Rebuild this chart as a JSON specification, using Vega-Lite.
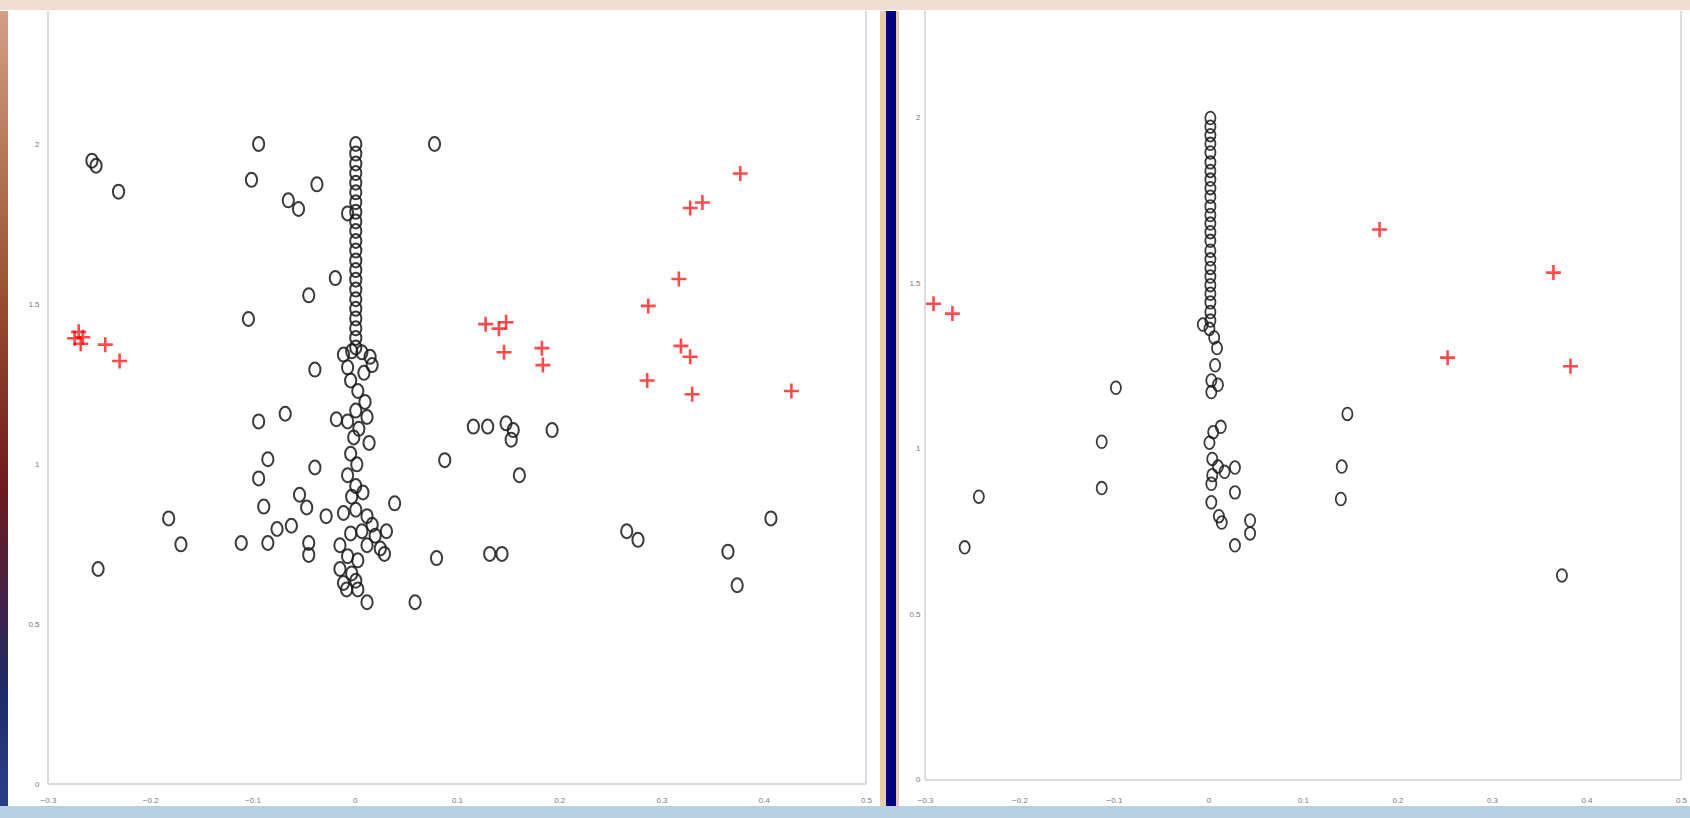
{
  "$schema": "https://vega.github.io/schema/vega-lite/v6.json",
  "padding": 0,
  "background": "white",
  "spacing": 0,
  "config": {"view": {"stroke": null}, "axis": {"labelFont": "Liberation Sans", "labelColor": "#7a7a7a", "labelFontSize": 8, "zindex": 1, "format": "~g"}},
  "datasets": {
    "left": [
      {"x": -0.257, "y": 1.948, "kind": "circle"}, {"x": -0.253, "y": 1.932, "kind": "circle"}, {"x": -0.231, "y": 1.851, "kind": "circle"},
      {"x": -0.251, "y": 0.672, "kind": "circle"}, {"x": -0.182, "y": 0.83, "kind": "circle"}, {"x": -0.17, "y": 0.749, "kind": "circle"},
      {"x": -0.094, "y": 2.0, "kind": "circle"}, {"x": -0.101, "y": 1.888, "kind": "circle"}, {"x": -0.065, "y": 1.824, "kind": "circle"},
      {"x": -0.055, "y": 1.797, "kind": "circle"}, {"x": -0.037, "y": 1.874, "kind": "circle"}, {"x": -0.045, "y": 1.527, "kind": "circle"},
      {"x": -0.104, "y": 1.453, "kind": "circle"}, {"x": -0.039, "y": 1.295, "kind": "circle"}, {"x": -0.094, "y": 1.133, "kind": "circle"},
      {"x": -0.068, "y": 1.157, "kind": "circle"}, {"x": -0.085, "y": 1.015, "kind": "circle"}, {"x": -0.039, "y": 0.989, "kind": "circle"},
      {"x": -0.094, "y": 0.955, "kind": "circle"}, {"x": -0.089, "y": 0.867, "kind": "circle"}, {"x": -0.054, "y": 0.904, "kind": "circle"},
      {"x": -0.047, "y": 0.864, "kind": "circle"}, {"x": -0.062, "y": 0.807, "kind": "circle"}, {"x": -0.076, "y": 0.797, "kind": "circle"},
      {"x": -0.085, "y": 0.753, "kind": "circle"}, {"x": -0.111, "y": 0.753, "kind": "circle"}, {"x": -0.045, "y": 0.753, "kind": "circle"},
      {"x": -0.045, "y": 0.716, "kind": "circle"}, {"x": -0.028, "y": 0.837, "kind": "circle"}, {"x": -0.019, "y": 1.581, "kind": "circle"},
      {"x": -0.018, "y": 1.14, "kind": "circle"}, {"x": 0.078, "y": 2.0, "kind": "circle"}, {"x": 0.012, "y": 0.568, "kind": "circle"},
      {"x": 0.059, "y": 0.568, "kind": "circle"}, {"x": 0.08, "y": 0.706, "kind": "circle"}, {"x": 0.088, "y": 1.012, "kind": "circle"},
      {"x": 0.039, "y": 0.877, "kind": "circle"}, {"x": 0.132, "y": 0.719, "kind": "circle"}, {"x": 0.144, "y": 0.719, "kind": "circle"},
      {"x": 0.116, "y": 1.117, "kind": "circle"}, {"x": 0.13, "y": 1.117, "kind": "circle"}, {"x": 0.148, "y": 1.127, "kind": "circle"},
      {"x": 0.155, "y": 1.106, "kind": "circle"}, {"x": 0.153, "y": 1.076, "kind": "circle"}, {"x": 0.161, "y": 0.965, "kind": "circle"},
      {"x": 0.193, "y": 1.106, "kind": "circle"}, {"x": 0.266, "y": 0.79, "kind": "circle"}, {"x": 0.277, "y": 0.763, "kind": "circle"},
      {"x": 0.365, "y": 0.726, "kind": "circle"}, {"x": 0.374, "y": 0.621, "kind": "circle"}, {"x": 0.407, "y": 0.83, "kind": "circle"},
      {"x": 0.001, "y": 2.0, "kind": "circle"}, {"x": 0.001, "y": 1.97, "kind": "circle"}, {"x": 0.001, "y": 1.939, "kind": "circle"},
      {"x": 0.001, "y": 1.909, "kind": "circle"}, {"x": 0.001, "y": 1.879, "kind": "circle"}, {"x": 0.001, "y": 1.849, "kind": "circle"},
      {"x": 0.001, "y": 1.818, "kind": "circle"}, {"x": 0.001, "y": 1.788, "kind": "circle"}, {"x": 0.001, "y": 1.758, "kind": "circle"},
      {"x": 0.001, "y": 1.728, "kind": "circle"}, {"x": 0.001, "y": 1.697, "kind": "circle"}, {"x": 0.001, "y": 1.667, "kind": "circle"},
      {"x": 0.001, "y": 1.636, "kind": "circle"}, {"x": 0.001, "y": 1.606, "kind": "circle"}, {"x": 0.001, "y": 1.576, "kind": "circle"},
      {"x": 0.001, "y": 1.545, "kind": "circle"}, {"x": 0.001, "y": 1.515, "kind": "circle"}, {"x": 0.001, "y": 1.485, "kind": "circle"},
      {"x": 0.001, "y": 1.455, "kind": "circle"}, {"x": 0.001, "y": 1.424, "kind": "circle"}, {"x": 0.001, "y": 1.394, "kind": "circle"},
      {"x": 0.001, "y": 1.364, "kind": "circle"}, {"x": -0.007, "y": 1.783, "kind": "circle"},
      {"x": -0.011, "y": 1.342, "kind": "circle"}, {"x": -0.003, "y": 1.352, "kind": "circle"}, {"x": 0.007, "y": 1.349, "kind": "circle"},
      {"x": 0.015, "y": 1.335, "kind": "circle"}, {"x": -0.007, "y": 1.302, "kind": "circle"}, {"x": 0.009, "y": 1.285, "kind": "circle"},
      {"x": 0.017, "y": 1.309, "kind": "circle"}, {"x": -0.004, "y": 1.261, "kind": "circle"},
      {"x": 0.003, "y": 1.228, "kind": "circle"}, {"x": 0.01, "y": 1.194, "kind": "circle"}, {"x": 0.001, "y": 1.167, "kind": "circle"},
      {"x": 0.012, "y": 1.147, "kind": "circle"}, {"x": -0.007, "y": 1.133, "kind": "circle"}, {"x": 0.004, "y": 1.11, "kind": "circle"},
      {"x": -0.001, "y": 1.083, "kind": "circle"}, {"x": 0.014, "y": 1.066, "kind": "circle"}, {"x": -0.004, "y": 1.032, "kind": "circle"},
      {"x": 0.002, "y": 0.999, "kind": "circle"}, {"x": -0.007, "y": 0.965, "kind": "circle"}, {"x": 0.001, "y": 0.931, "kind": "circle"},
      {"x": -0.003, "y": 0.898, "kind": "circle"}, {"x": 0.008, "y": 0.911, "kind": "circle"},
      {"x": -0.011, "y": 0.847, "kind": "circle"}, {"x": 0.001, "y": 0.857, "kind": "circle"}, {"x": 0.012, "y": 0.837, "kind": "circle"},
      {"x": 0.017, "y": 0.81, "kind": "circle"}, {"x": 0.007, "y": 0.79, "kind": "circle"}, {"x": 0.02, "y": 0.776, "kind": "circle"},
      {"x": 0.012, "y": 0.746, "kind": "circle"}, {"x": 0.025, "y": 0.736, "kind": "circle"}, {"x": 0.029, "y": 0.719, "kind": "circle"},
      {"x": -0.004, "y": 0.783, "kind": "circle"}, {"x": -0.0145, "y": 0.746, "kind": "circle"}, {"x": -0.007, "y": 0.712, "kind": "circle"},
      {"x": 0.003, "y": 0.699, "kind": "circle"}, {"x": -0.0145, "y": 0.672, "kind": "circle"}, {"x": -0.003, "y": 0.658, "kind": "circle"},
      {"x": -0.011, "y": 0.628, "kind": "circle"}, {"x": 0.001, "y": 0.635, "kind": "circle"}, {"x": -0.008, "y": 0.608, "kind": "circle"},
      {"x": 0.003, "y": 0.608, "kind": "circle"}, {"x": 0.031, "y": 0.79, "kind": "circle"},
      {"x": -0.27, "y": 1.413, "kind": "cross"}, {"x": -0.266, "y": 1.396, "kind": "cross"}, {"x": -0.268, "y": 1.376, "kind": "cross"},
      {"x": -0.274, "y": 1.393, "kind": "cross"}, {"x": -0.244, "y": 1.373, "kind": "cross"}, {"x": -0.23, "y": 1.322, "kind": "cross"},
      {"x": 0.128, "y": 1.437, "kind": "cross"}, {"x": 0.141, "y": 1.423, "kind": "cross"}, {"x": 0.148, "y": 1.443, "kind": "cross"},
      {"x": 0.146, "y": 1.349, "kind": "cross"}, {"x": 0.183, "y": 1.362, "kind": "cross"}, {"x": 0.184, "y": 1.309, "kind": "cross"},
      {"x": 0.287, "y": 1.494, "kind": "cross"}, {"x": 0.317, "y": 1.578, "kind": "cross"}, {"x": 0.286, "y": 1.261, "kind": "cross"},
      {"x": 0.319, "y": 1.369, "kind": "cross"}, {"x": 0.328, "y": 1.335, "kind": "cross"}, {"x": 0.33, "y": 1.218, "kind": "cross"},
      {"x": 0.328, "y": 1.8, "kind": "cross"}, {"x": 0.34, "y": 1.817, "kind": "cross"}, {"x": 0.377, "y": 1.908, "kind": "cross"},
      {"x": 0.427, "y": 1.228, "kind": "cross"}
    ],
    "right": [
      {"x": -0.243, "y": 0.856, "kind": "circle"}, {"x": -0.258, "y": 0.703, "kind": "circle"}, {"x": -0.098, "y": 1.185, "kind": "circle"},
      {"x": -0.113, "y": 1.022, "kind": "circle"}, {"x": -0.113, "y": 0.882, "kind": "circle"}, {"x": 0.147, "y": 1.106, "kind": "circle"},
      {"x": 0.141, "y": 0.947, "kind": "circle"}, {"x": 0.14, "y": 0.849, "kind": "circle"}, {"x": 0.374, "y": 0.618, "kind": "circle"},
      {"x": 0.002, "y": 2.0, "kind": "circle"}, {"x": 0.002, "y": 1.974, "kind": "circle"}, {"x": 0.002, "y": 1.948, "kind": "circle"},
      {"x": 0.002, "y": 1.922, "kind": "circle"}, {"x": 0.002, "y": 1.896, "kind": "circle"}, {"x": 0.002, "y": 1.866, "kind": "circle"},
      {"x": 0.002, "y": 1.84, "kind": "circle"}, {"x": 0.002, "y": 1.814, "kind": "circle"}, {"x": 0.002, "y": 1.788, "kind": "circle"},
      {"x": 0.002, "y": 1.762, "kind": "circle"}, {"x": 0.002, "y": 1.733, "kind": "circle"}, {"x": 0.002, "y": 1.707, "kind": "circle"},
      {"x": 0.002, "y": 1.681, "kind": "circle"}, {"x": 0.002, "y": 1.655, "kind": "circle"}, {"x": 0.002, "y": 1.629, "kind": "circle"},
      {"x": 0.002, "y": 1.599, "kind": "circle"}, {"x": 0.002, "y": 1.573, "kind": "circle"}, {"x": 0.002, "y": 1.547, "kind": "circle"},
      {"x": 0.002, "y": 1.521, "kind": "circle"}, {"x": 0.002, "y": 1.495, "kind": "circle"}, {"x": 0.002, "y": 1.469, "kind": "circle"},
      {"x": 0.002, "y": 1.443, "kind": "circle"}, {"x": 0.002, "y": 1.414, "kind": "circle"}, {"x": 0.002, "y": 1.388, "kind": "circle"},
      {"x": -0.006, "y": 1.376, "kind": "circle"}, {"x": 0.001, "y": 1.363, "kind": "circle"}, {"x": 0.006, "y": 1.337, "kind": "circle"},
      {"x": 0.009, "y": 1.305, "kind": "circle"}, {"x": 0.007, "y": 1.253, "kind": "circle"}, {"x": 0.003, "y": 1.207, "kind": "circle"},
      {"x": 0.01, "y": 1.194, "kind": "circle"}, {"x": 0.003, "y": 1.172, "kind": "circle"}, {"x": 0.013, "y": 1.067, "kind": "circle"},
      {"x": 0.005, "y": 1.051, "kind": "circle"}, {"x": 0.001, "y": 1.019, "kind": "circle"}, {"x": 0.004, "y": 0.97, "kind": "circle"},
      {"x": 0.01, "y": 0.947, "kind": "circle"}, {"x": 0.004, "y": 0.921, "kind": "circle"}, {"x": 0.017, "y": 0.931, "kind": "circle"},
      {"x": 0.028, "y": 0.944, "kind": "circle"}, {"x": 0.028, "y": 0.869, "kind": "circle"}, {"x": 0.003, "y": 0.895, "kind": "circle"},
      {"x": 0.003, "y": 0.839, "kind": "circle"}, {"x": 0.011, "y": 0.797, "kind": "circle"}, {"x": 0.014, "y": 0.778, "kind": "circle"},
      {"x": 0.028, "y": 0.709, "kind": "circle"}, {"x": 0.044, "y": 0.784, "kind": "circle"}, {"x": 0.044, "y": 0.745, "kind": "circle"},
      {"x": -0.291, "y": 1.439, "kind": "cross"}, {"x": -0.271, "y": 1.409, "kind": "cross"}, {"x": 0.181, "y": 1.663, "kind": "cross"},
      {"x": 0.253, "y": 1.276, "kind": "cross"}, {"x": 0.365, "y": 1.533, "kind": "cross"}, {"x": 0.383, "y": 1.25, "kind": "cross"}
    ]
  },
  "vconcat": [
    {"width": 1690, "height": 10, "data": {"values": []}, "mark": "point", "view": {"fill": "#f1ded2", "stroke": null}},
    {
      "hconcat": [
        {"width": 8, "height": 795, "data": {"values": []}, "mark": "point",
         "view": {"stroke": null, "fill": {"gradient": "linear", "x1": 0, "y1": 0, "x2": 0, "y2": 1,
                  "stops": [{"offset": 0, "color": "#d2a085"}, {"offset": 0.35, "color": "#9a5230"}, {"offset": 0.6, "color": "#6e1a1e"}, {"offset": 0.85, "color": "#1f2a66"}, {"offset": 1, "color": "#2a3f8a"}]}}},
        {
          "width": 872, "height": 795,
          "view": {"fill": "white", "stroke": null},
          "layer": [
            {
              "data": {"name": "left"},
              "transform": [{"filter": "datum.kind === 'circle'"}],
              "mark": {"type": "point", "shape": "M-0.8,0A0.8,1 0 1,0 0.8,0A0.8,1 0 1,0 -0.8,0Z", "size": 196, "filled": false, "color": "#1a1a1a", "strokeWidth": 2, "opacity": 0.85},
              "encoding": {
                "x": {"field": "x", "type": "quantitative", "scale": {"domain": [-0.33912, 0.51369], "nice": false, "zero": false},
                      "axis": {"values": [-0.3, -0.2, -0.1, 0, 0.1, 0.2, 0.3, 0.4, 0.5], "offset": -22, "domain": false, "ticks": false, "grid": false, "labelPadding": 12, "title": null}},
                "y": {"field": "y", "type": "quantitative", "scale": {"domain": [-0.06875, 2.41563], "nice": false, "zero": false},
                      "axis": {"values": [0, 0.5, 1, 1.5, 2], "offset": -40, "domain": false, "ticks": false, "grid": false, "labelPadding": 9, "title": null}}
              }
            },
            {
              "data": {"name": "left"},
              "transform": [{"filter": "datum.kind === 'cross'"}],
              "mark": {"type": "point", "shape": "M-1,0H1M0,-1V1", "size": 225, "filled": false, "color": "#ff0000", "strokeWidth": 2.6},
              "encoding": {
                "x": {"field": "x", "type": "quantitative"},
                "y": {"field": "y", "type": "quantitative"}
              }
            },
            {
              "data": {"values": [{}]},
              "mark": {"type": "rule", "color": "#dcdcdc", "strokeWidth": 2},
              "encoding": {"x": {"datum": -0.3, "type": "quantitative"}, "y": {"datum": 0, "type": "quantitative"}, "y2": {"datum": 2.41563}}
            },
            {
              "data": {"values": [{}]},
              "mark": {"type": "rule", "color": "#dcdcdc", "strokeWidth": 2},
              "encoding": {"x": {"datum": 0.5, "type": "quantitative"}, "y": {"datum": 0, "type": "quantitative"}, "y2": {"datum": 2.41563}}
            },
            {
              "data": {"values": [{}]},
              "mark": {"type": "rule", "color": "#dcdcdc", "strokeWidth": 2},
              "encoding": {"x": {"datum": -0.3, "type": "quantitative"}, "x2": {"datum": 0.5}, "y": {"datum": 0, "type": "quantitative"}}
            }
          ]
        },
        {"width": 6, "height": 795, "data": {"values": []}, "mark": "point", "view": {"fill": "#e7c9b6", "stroke": null}},
        {"width": 10, "height": 795, "data": {"values": []}, "mark": "point", "view": {"fill": "#000080", "stroke": null}},
        {"width": 3, "height": 795, "data": {"values": []}, "mark": "point", "view": {"fill": "#e7c9b6", "stroke": null}},
        {
          "width": 791, "height": 795,
          "view": {"fill": "white", "stroke": null},
          "layer": [
            {
              "data": {"name": "right"},
              "transform": [{"filter": "datum.kind === 'circle'"}],
              "mark": {"type": "point", "shape": "M-0.8,0A0.8,1 0 1,0 0.8,0A0.8,1 0 1,0 -0.8,0Z", "size": 160, "filled": false, "color": "#1a1a1a", "strokeWidth": 1.8, "opacity": 0.85},
              "encoding": {
                "x": {"field": "x", "type": "quantitative", "scale": {"domain": [-0.32751, 0.50952], "nice": false, "zero": false},
                      "axis": {"values": [-0.3, -0.2, -0.1, 0, 0.1, 0.2, 0.3, 0.4, 0.5], "offset": -26, "domain": false, "ticks": false, "grid": false, "labelPadding": 16, "title": null}},
                "y": {"field": "y", "type": "quantitative", "scale": {"domain": [-0.07855, 2.32326], "nice": false, "zero": false},
                      "axis": {"values": [0, 0.5, 1, 1.5, 2], "offset": -27, "domain": false, "ticks": false, "grid": false, "labelPadding": 6, "title": null}}
              }
            },
            {
              "data": {"name": "right"},
              "transform": [{"filter": "datum.kind === 'cross'"}],
              "mark": {"type": "point", "shape": "M-1,0H1M0,-1V1", "size": 225, "filled": false, "color": "#ff0000", "strokeWidth": 2.6},
              "encoding": {
                "x": {"field": "x", "type": "quantitative"},
                "y": {"field": "y", "type": "quantitative"}
              }
            },
            {
              "data": {"values": [{}]},
              "mark": {"type": "rule", "color": "#dcdcdc", "strokeWidth": 2},
              "encoding": {"x": {"datum": -0.3, "type": "quantitative"}, "y": {"datum": 0, "type": "quantitative"}, "y2": {"datum": 2.32326}}
            },
            {
              "data": {"values": [{}]},
              "mark": {"type": "rule", "color": "#dcdcdc", "strokeWidth": 2},
              "encoding": {"x": {"datum": 0.5, "type": "quantitative"}, "y": {"datum": 0, "type": "quantitative"}, "y2": {"datum": 2.32326}}
            },
            {
              "data": {"values": [{}]},
              "mark": {"type": "rule", "color": "#dcdcdc", "strokeWidth": 2},
              "encoding": {"x": {"datum": -0.3, "type": "quantitative"}, "x2": {"datum": 0.5}, "y": {"datum": 0, "type": "quantitative"}}
            }
          ]
        }
      ],
      "spacing": 0,
      "bounds": "flush"
    },
    {"width": 1690, "height": 13, "data": {"values": []}, "mark": "point", "view": {"fill": "#b9cfe3", "stroke": null}}
  ]
}
